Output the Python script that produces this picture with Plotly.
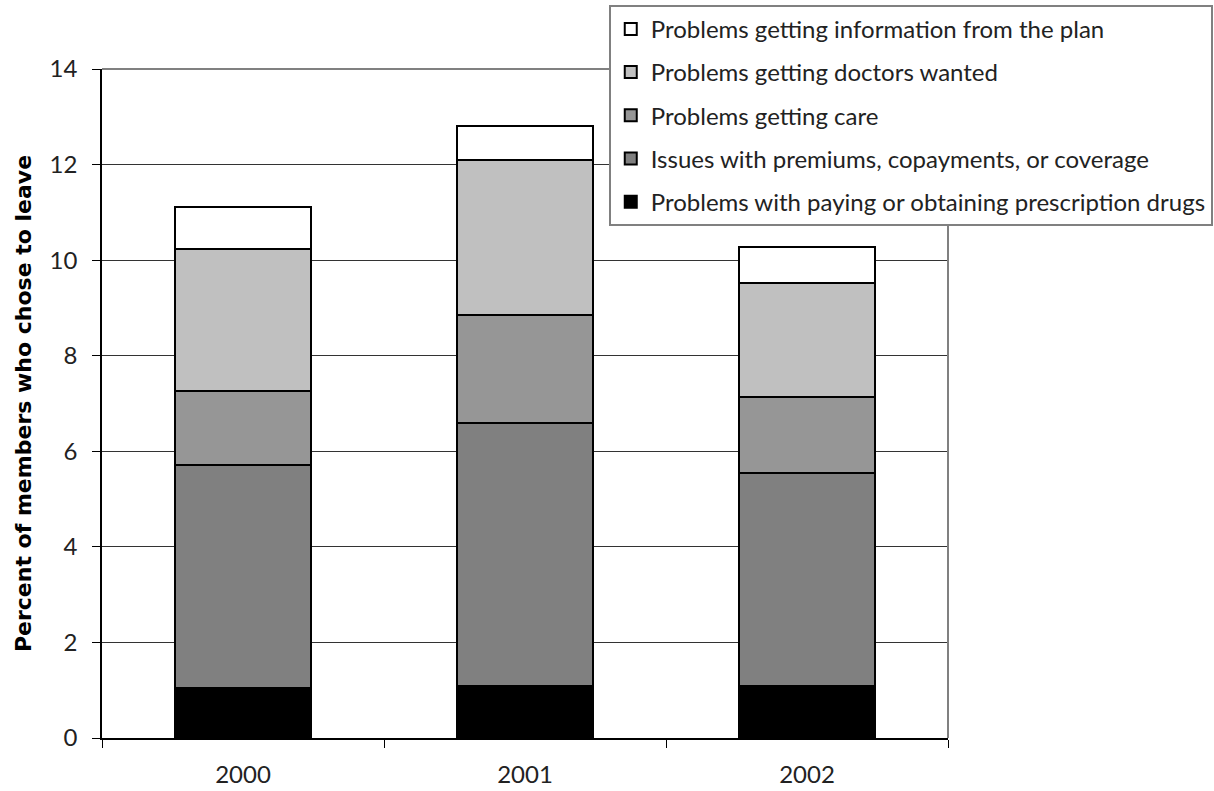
import plotly.graph_objects as go

years = ["2000", "2001", "2002"]

# Stack segments, bottom to top (percent of members who chose to leave)
drugs = [1.05, 1.09, 1.09]
premiums = [4.66, 5.50, 4.46]
care = [1.55, 2.27, 1.58]
doctors = [2.97, 3.24, 2.40]
info = [0.88, 0.70, 0.74]

series = [
    ("Problems with paying or obtaining prescription drugs", drugs, "#000000"),
    ("Issues with premiums, copayments, or coverage", premiums, "#808080"),
    ("Problems getting care", care, "#969696"),
    ("Problems getting doctors wanted", doctors, "#C0C0C0"),
    ("Problems getting information from the plan", info, "#FFFFFF"),
]

FONT = "Lato"

fig = go.Figure()
for i, (name, vals, color) in enumerate(series):
    fig.add_trace(go.Bar(
        x=years, y=vals, name=name, legendgroup=f"g{i}",
        legendrank=len(series) - i,  # top segment listed first
        marker=dict(color=color, line=dict(color="#000000", width=2)),
        width=0.48,
    ))

fig.update_layout(
    barmode="stack",
    width=1214, height=791,
    paper_bgcolor="white", plot_bgcolor="white",
    margin=dict(l=102, r=266, t=69, b=53, autoexpand=False),
    font=dict(family=FONT, size=24, color="#222222"),
    legend=dict(
        traceorder="grouped",
        x=0.599, y=1.096, xanchor="left", yanchor="top",
        bgcolor="white", bordercolor="#808080", borderwidth=2,
        font=dict(family=FONT, size=24, color="#222222"),
        tracegroupgap=9,
        itemwidth=30,
    ),
    showlegend=True,
)

fig.update_yaxes(
    range=[0, 14], dtick=2,
    showgrid=True, gridcolor="#333333", gridwidth=1,
    showline=True, linecolor="#000000", linewidth=1.5,
    ticks="outside", ticklen=8, tickcolor="#000000",
    ticklabelstandoff=10,
    zeroline=False,
    title=dict(text="<b>Percent of members who chose to leave</b>",
               font=dict(family="DejaVu Sans", size=22, color="#000000"), standoff=12),
)
fig.update_xaxes(
    showline=True, linecolor="#000000", linewidth=1.5,
    ticks="outside", ticklen=8, tickcolor="#000000", tickson="boundaries",
    ticklabelstandoff=14,
    showgrid=False,
)

# Plot-area frame on the top and right sides
fig.add_shape(type="line", xref="paper", yref="paper", x0=0, x1=1, y0=1, y1=1,
              line=dict(color="#808080", width=2))
fig.add_shape(type="line", xref="paper", yref="paper", x0=1, x1=1, y0=0, y1=1,
              line=dict(color="#808080", width=2))

fig.write_html("out.html")
